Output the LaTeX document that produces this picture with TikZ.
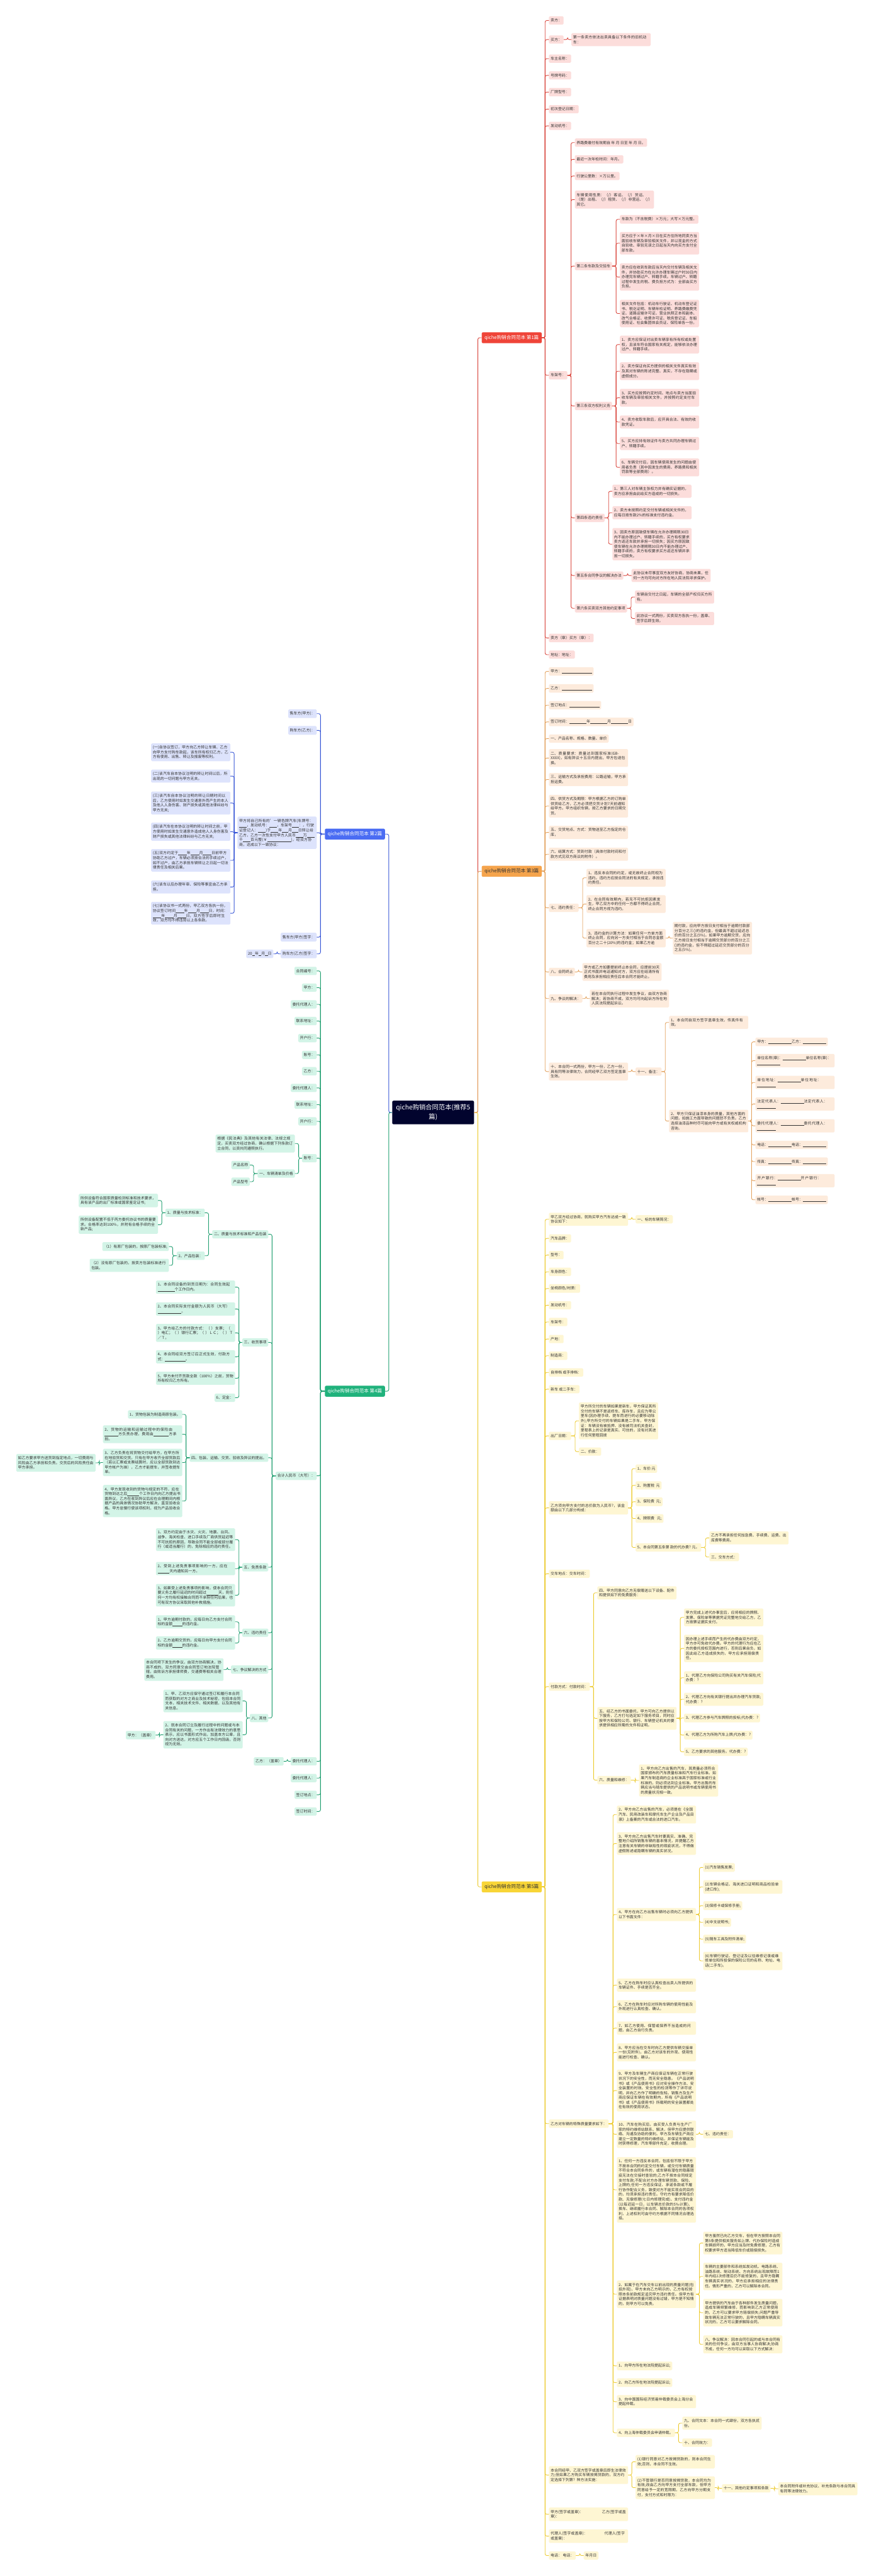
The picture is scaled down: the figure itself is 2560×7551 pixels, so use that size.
\documentclass[tikz,border=0pt]{standalone}
\usepackage{fontspec}
\setmainfont{Noto Sans CJK SC}
\XeTeXlinebreaklocale "zh"
\XeTeXlinebreakskip=0pt plus 1pt
\usetikzlibrary{calc}
\definecolor{rfill}{HTML}{FCDDDB}
\definecolor{rline}{HTML}{D9443B}
\definecolor{rroot}{HTML}{EF4438}
\definecolor{ofill}{HTML}{FDEBDC}
\definecolor{oline}{HTML}{E3A15C}
\definecolor{oroot}{HTML}{F5A44C}
\definecolor{yfill}{HTML}{FEF6D3}
\definecolor{yline}{HTML}{EDCB2F}
\definecolor{yroot}{HTML}{F8D537}
\definecolor{bfill}{HTML}{DDE3FC}
\definecolor{bline}{HTML}{3554D6}
\definecolor{broot}{HTML}{4A6CF3}
\definecolor{gfill}{HTML}{D3F4E7}
\definecolor{gline}{HTML}{1B9D6D}
\definecolor{groot}{HTML}{20B27C}
\definecolor{cnode}{HTML}{02042E}
\definecolor{txt}{HTML}{333333}
\newcommand\blnk[1]{\hspace{0pt}\rule[-1.5pt]{#1pt}{0.5pt}\hspace{0pt}}
\newcommand\cnR[3]{\path (#3.west) ++(-11,0) coordinate (tmpc); \draw[#1] (#2.east) -- (tmpc |- #2.east) |- (#3.west);}
\newcommand\cnL[3]{\path (#3.east) ++(11,0) coordinate (tmpc); \draw[#1] (#2.west) -- (tmpc |- #2.west) |- (#3.east);}
\newcommand\kidsR[3]{\foreach \kk in {#3}{\cnR{#1}{#2}{\kk}}}
\newcommand\kidsL[3]{\foreach \kk in {#3}{\cnL{#1}{#2}{\kk}}}
\tikzset{
  bx/.style={rectangle, rounded corners=3pt, inner xsep=5pt, inner ysep=7pt, text=txt, align=left, font=\fontsize{11}{14}\selectfont},
  W/.style={text width=222pt},
  Rw/.style={bx, fill=rfill, anchor=west},
  Ow/.style={bx, fill=ofill, anchor=west},
  Yw/.style={bx, fill=yfill, anchor=west},
  Be/.style={bx, fill=bfill, anchor=east},
  Ge/.style={bx, fill=gfill, anchor=east},
  ln/.style={line width=1.6pt, rounded corners=5pt},
  RL/.style={ln, draw=rline},
  OL/.style={ln, draw=oline},
  YL/.style={ln, draw=yline},
  BL/.style={ln, draw=bline},
  GL/.style={ln, draw=gline},
  rootn/.style={rectangle, rounded corners=4pt, minimum width=176pt, minimum height=32pt, inner sep=0pt, font=\fontsize{14}{16}\selectfont, align=center},
}
\begin{document}
\begin{tikzpicture}[x=1pt,y=-1pt]
\fill[white] (0,0) rectangle (2560,7551);
\useasboundingbox (0,0) rectangle (2560,7551);

% central
\node[rectangle, rounded corners=4pt, fill=cnode, text=white, minimum width=240pt, minimum height=69pt, align=center, font=\fontsize{19}{27}\selectfont] (C) at (1269,3261) {qiche购销合同范本(推荐5\\篇)};

% roots
\node[rootn, fill=rroot, text=white, anchor=west] (R) at (1411,990) {qiche购销合同范本 第1篇};
\node[rootn, fill=oroot, text=txt, anchor=west] (O) at (1411,2554) {qiche购销合同范本 第3篇};
\node[rootn, fill=yroot, text=txt, anchor=west] (Y) at (1411,5531) {qiche购销合同范本 第5篇};
\node[rootn, fill=broot, text=white, anchor=east] (B) at (1128,2445) {qiche购销合同范本 第2篇};
\node[rootn, fill=groot, text=white, anchor=east] (G) at (1128,4078) {qiche购销合同范本 第4篇};

% ===== RED =====
\node[Rw] (r1) at (1608,60) {卖方：};
\node[Rw] (r2) at (1608,116) {买方：};
\node[Rw,W] (r2a) at (1674,116) {第一条卖方依法出卖具备以下条件的旧机动车：};
\node[Rw] (r3) at (1608,172) {车主名称：};
\node[Rw] (r4) at (1608,221) {号牌号码：};
\node[Rw] (r5) at (1608,270) {厂牌型号：};
\node[Rw] (r6) at (1608,320) {初次登记日期：};
\node[Rw] (r7) at (1608,369) {发动机号：};
\node[Rw] (r8) at (1608,1100) {车架号：};
\node[Rw] (r9) at (1608,1870) {卖方（章）买方（章）：};
\node[Rw] (r10) at (1608,1919) {地址：地址：};
\node[Rw] (r8a) at (1684,418) {养路费缴付有效期自 年 月 日至 年 月 日。};
\node[Rw] (r8b) at (1684,467) {最近一次年检时间：年月。};
\node[Rw] (r8c) at (1684,516) {行驶公里数：×万公里。};
\node[Rw,W] (r8d) at (1684,585) {车辆使用性质：（/）客运、（/）货运、（是）出租、（/）租赁、（/）非营运、（/）其它。};
\node[Rw] (r8e) at (1684,780) {第二条车款及交验车};
\node[Rw] (r8f) at (1684,1190) {第三条双方权利义务};
\node[Rw] (r8g) at (1684,1518) {第四条违约责任};
\node[Rw] (r8h) at (1684,1687) {第五条合同争议的解决办法};
\node[Rw] (r8i) at (1684,1783) {第六条买卖双方其他约定事项};
\node[Rw] (e1) at (1816,643) {车款为（不含税费）×万元；大写×万元整。};
\node[Rw,W] (e2) at (1816,713) {买方应于×年×月×日在买方住所地同卖方当面验收车辆及审验相关文件，并以现金的方式自验收、审验无误之日起当天内向买方支付全部车款。};
\node[Rw,W] (e3) at (1816,812) {卖方应在收到车款后当天内交付车辆及相关文件，并协助买方在允许办理车辆过户时30日内办理完车辆过户、转籍手续。车辆过户、转籍过程中发生的税、费负担方式为：全部由买方负担。};
\node[Rw,W] (e4) at (1816,919) {相关文件包括：机动车行驶证、机动车登记证书、税讫证明、车辆年检证明、养路费缴费凭证、道路运输许可证、营业执照正本和副本、改气合格证、收费许可证、税务登记证、车船使用证、社会集团体会员证、保险单各一份。};
\node[Rw,W] (f1) at (1816,1010) {1、卖方应保证对出卖车辆享有所有权或处置权，且该车符合国家有关规定，能够依法办理过户、转籍手续。};
\node[Rw,W] (f2) at (1816,1088) {2、卖方保证向买方提供的相关文件真实有效及其对车辆的陈述完整、真实，不存在隐瞒或虚假成分。};
\node[Rw,W] (f3) at (1816,1166) {3、买方应按照约定时间、地点与卖方当面验收车辆及审验相关文件，并按照约定支付车款。};
\node[Rw,W] (f4) at (1816,1237) {4、卖方收取车款后，应开具合法、有效的收款凭证。};
\node[Rw,W] (f5) at (1816,1300) {5、买方应持有效证件与卖方共同办理车辆过户、转籍手续。};
\node[Rw,W] (f6) at (1816,1370) {6、车辆交付后，因车辆使用发生的问题由使用者负责（其中因发生的费用、养路费和相关罚款等全部费用）。};
\node[Rw,W] (v1) at (1794,1440) {1、第三人对车辆主张权力并有确实证据的，卖方应承担由此给买方造成的一切损失。};
\node[Rw,W] (v2) at (1794,1503) {2、卖方未按照约定交付车辆或相关文件的，应每日按车款2\%的标准支付违约金。};
\node[Rw,W] (v3) at (1794,1595) {3、因卖方原因致使车辆在允许办理期限30日内不能办理过户、转籍手续的，买方有权要求卖方返还车款并承担一切损失；因买方原因致使车辆在允许办理期限30日内不能办理过户、转籍手续的，卖方有权要求买方返还车辆并承担一切损失。};
\node[Rw,W] (h1) at (1850,1687) {此协议未尽事宜双方友好协商，协商未果，任何一方均可向对方所在地人民法院寻求保护。};
\node[Rw,W] (i1) at (1860,1750) {车辆自交付之日起，车辆的全部产权归买方所有。};
\node[Rw,W] (i2) at (1860,1813) {此协议一式两份，买卖双方各执一份，盖章、签字后即生效。};

% ===== ORANGE =====
\node[Ow] (o1) at (1608,1968) {甲方：\blnk{88}};
\node[Ow] (o2) at (1608,2018) {乙方：\blnk{88}};
\node[Ow] (o3) at (1608,2067) {签订地点：\blnk{88}};
\node[Ow] (o4) at (1608,2116) {签订时间：\blnk{50}年\blnk{50}月\blnk{50}日};
\node[Ow] (o5) at (1608,2165) {一、产品名称、规格、数量、单价};
\node[Ow,W] (o6) at (1608,2222) {二、质量要求：质量达到国家标准(GB-XXXX)，如有异议十五日内提出，甲方包退包换。};
\node[Ow,W] (o7) at (1608,2285) {三、运输方式及承担费用：公路运输，甲方承担运费。};
\node[Ow,W] (o8) at (1608,2363) {四、供货方式及期限：甲方根据乙方的订购单供货给乙方，乙方必须把交货计划7天前通知给甲方。甲方组织车辆，按乙方要求的日期交货。};
\node[Ow,W] (o9) at (1608,2440) {五、交货地点、方式：货物送至乙方指定的仓库，};
\node[Ow,W] (o10) at (1608,2504) {六、结算方式：货到付款（具体付款时间和付款方式见双方商议的附件）。};
\node[Ow] (o11) at (1608,2661) {七、违约责任：};
\node[Ow] (o12) at (1608,2849) {八、合同终止};
\node[Ow] (o13) at (1608,2927) {九、争议的解决：};
\node[Ow,W] (o14) at (1608,3141) {十、本合同一式两份，甲方一份，乙方一份，具有同等法律效力，合同经甲乙双方签定盖章生效。};
\node[Ow,W] (o11a) at (1718,2573) {1、违反本合同的约定，或无故终止合同视为违约。违约方应按合同法的有关规定，承担违约责任。};
\node[Ow,W] (o11b) at (1718,2650) {2、在合同有效期内，若无不可抗拒因素发生，甲乙双方中的任何一方都不得终止合同，终止合同方视为违约。};
\node[Ow,W] (o11c) at (1718,2750) {3、违约金的计算方法：如果任何一方单方面终止合同，应向另一方支付相当于合同总金额百分之二十(20\%)的违约金；如果乙方逾};
\node[Ow,W] (o11d) at (1971,2750) {期付款，应向甲方按日支付相当于逾期付款部分百分之三()的违约金，但最高不超过延迟总价的百分之五(5\%)。如果甲方逾期交货，应向乙方按日支付相当于逾期交货部分的百分之三()的违约金，但不得超过延迟交货部分的百分之五(5\%)。};
\node[Ow,W] (o12a) at (1706,2849) {甲方或乙方如要提前终止本合同，应提前30天正式书面并电话通知对方，双方应在结清所有费用及承担相应责任后本合同才能终止。};
\node[Ow,W] (o13a) at (1728,2927) {若在本合同执行过程中发生争议，由双方协商解决；若协商不成，双方均可向起诉方所在地人民法院提起诉讼。};
\node[Ow] (o14a) at (1862,3141) {十一、备注：};
\node[Ow,W] (o14b) at (1960,2997) {1、本合同自双方签字盖章生效，传真件有效。};
\node[Ow,W] (o14c) at (1960,3286) {2、甲方只保证油漆本身的质量，其他方面的问题，如施工方面导致的问题恕不负责。乙方选择油漆品种时尽可能向甲方或有关权威机构咨询。};
\node[Ow] (p1) at (2213,3054) {甲方：\blnk{68}乙方：\blnk{68}};
\node[Ow,W] (p2) at (2213,3109) {单位名称(章)：\blnk{68}单位名称(章)：\blnk{68}};
\node[Ow,W] (p3) at (2213,3173) {单位地址：\blnk{68}单位地址：\blnk{55}};
\node[Ow,W] (p4) at (2213,3236) {法定代表人：\blnk{68}法定代表人：\blnk{55}};
\node[Ow,W] (p5) at (2213,3300) {委托代理人：\blnk{68}委托代理人：\blnk{55}};
\node[Ow] (p6) at (2213,3356) {电话：\blnk{68}电话：\blnk{68}};
\node[Ow] (p7) at (2213,3405) {传真：\blnk{68}传真：\blnk{68}};
\node[Ow,W] (p8) at (2213,3461) {开户银行：\blnk{68}开户银行：\blnk{55}};
\node[Ow] (p9) at (2213,3517) {帐号：\blnk{68}帐号：\blnk{68}};

% ===== YELLOW =====
\node[Yw,W] (y1) at (1608,3574) {甲乙双方经过协商，就购买甲方汽车达成一致协议如下：};
\node[Yw] (y1a) at (1862,3574) {一、标的车辆简况：};
\node[Yw] (y2) at (1608,3630) {汽车品牌：};
\node[Yw] (y3) at (1608,3679) {型号：};
\node[Yw] (y4) at (1608,3728) {车身颜色：};
\node[Yw] (y5) at (1608,3777) {坐椅颜色/材质：};
\node[Yw] (y6) at (1608,3826) {发动机号：};
\node[Yw] (y7) at (1608,3875) {车架号：};
\node[Yw] (y8) at (1608,3925) {产地：};
\node[Yw] (y9) at (1608,3974) {制造商：};
\node[Yw] (y10) at (1608,4023) {自排档 或手排档：};
\node[Yw] (y11) at (1608,4072) {新车 或二手车：};
\node[Yw] (y12) at (1608,4209) {出厂日期：};
\node[Yw,W] (y12a) at (1696,4165) {甲方所交付的车辆如果是新车，甲方保证其所交付的车辆不是返修车、库存车，且应为零公里车(因办理手续、提车而进行的必要移动除外);甲方所交付的车辆如果是二手车，甲方保证：车辆没有被抵押、没有被司法机关查封，里程表上的记录是真实、可信的，没有对其进行任何里程回拨};
\node[Yw] (y12b) at (1696,4255) {二、价款：};
\node[Yw,W] (y13) at (1608,4420) {乙方须向甲方支付的总价款为人民币?，该金额由以下几部分构成：};
\node[Yw] (y13a) at (1862,4305) {1、车价:元};
\node[Yw] (y13b) at (1862,4354) {2、购置税\ \ 元};
\node[Yw] (y13c) at (1862,4402) {3、保险费\ \ 元;};
\node[Yw] (y13d) at (1862,4451) {4、牌照费\ \ \ 元;};
\node[Yw] (y13e) at (1862,4536) {5、本合同第五条第 款的代办费? 元。};
\node[Yw,W] (y13f) at (2078,4508) {乙方不再承担任何加急费、手续费、运费、出库费等费用。};
\node[Yw] (y13g) at (2078,4564) {三、交车方式：};
\node[Yw] (y14) at (1608,4613) {交车地点：交车时间：};
\node[Yw] (y15) at (1608,4944) {付款方式：付款时间：};
\node[Yw,W] (y15a) at (1750,4669) {四、甲方同意向乙方无偿赠送以下设备、配件和提供如下的免费服务：};
\node[Yw,W] (y15b) at (1750,5037) {五、经乙方的书面委托，甲方可向乙方提供以下服务，乙方打勾选定如下服务项目，同时应按甲方和保险公司、银行、车辆登记机关的要求提供相应所需的文件和证明。};
\node[Yw] (y15c) at (1750,5218) {六、质量和维修：};
\node[Yw,W] (s1) at (2004,4741) {甲方完成上述代办事宜后，应将相应的牌照、发票、保险单等票据凭证完整地交给乙方，乙方按票证据实支付。};
\node[Yw,W] (s2) at (2004,4832) {因办理上述手续而产生的代办费由双方约定，甲方亦可免收代办费。甲方的代理行为应在乙方的委托授权范围内进行，否则后果自负，如因此给乙方造成损失的，甲方应承担赔偿责任。};
\node[Yw,W] (s3) at (2004,4918) {1、代理乙方向保险公司购买有关汽车保险;代办费：?};
\node[Yw,W] (s4) at (2004,4981) {2、代理乙方向有关银行提出并办理汽车贷款;代办费：?};
\node[Yw] (s5) at (2004,5036) {3、代理乙方参与汽车牌照的投标;代办费：?};
\node[Yw] (s6) at (2004,5086) {4、代理乙方为所购汽车上牌;代办费：?};
\node[Yw] (s7) at (2004,5135) {5、乙方要求的其他服务。代办费：?};
\node[Yw,W] (y15d) at (1872,5219) {1、甲方向乙方出售的汽车，其质量必须符合国家颁布的汽车质量标准和汽车行业标准。如果汽车制造商的企业标准高于国家标准或行业标准的，则必须达到企业标准。甲方出售的车辆应当与随车提供的产品说明书或车辆使用书的质量状况相一致。};
\node[Yw] (y16) at (1608,6225) {乙方对车辆的特殊质量要求如下：};
\node[Yw,W] (q2) at (1807,5319) {2、甲方向乙方出售的汽车，必须是在《全国汽车、民用改装车和摩托车生产企业及产品目录》上备案的汽车或合法的进口汽车。};
\node[Yw,W] (q3) at (1807,5404) {3、甲方向乙方出售汽车时要真实、准确、完整地介绍所销售车辆的基本情况，并提醒乙方注意有关车辆的非缺陷性的瑕疵状况，不得做虚假陈述或隐瞒车辆的真实状况。};
\node[Yw,W] (q4) at (1807,5612) {4、甲方在向乙方出售车辆时必须向乙方提供以下书面文件：};
\node[Yw] (q4a) at (2060,5474) {(1)汽车销售发票;};
\node[Yw,W] (q4b) at (2060,5531) {(2)车辆合格证、海关进口证明和商品检验单(进口车);};
\node[Yw] (q4c) at (2060,5586) {(3)保修卡或保修手册;};
\node[Yw] (q4d) at (2060,5635) {(4)中文说明书;};
\node[Yw] (q4e) at (2060,5684) {(5)随车工具及附件清单;};
\node[Yw,W] (q4f) at (2060,5748) {(6)车辆行驶证、登记证及以往维修记录或维修单位和所投保的保险公司的名称、地址、电话(二手车)。};
\node[Yw,W] (q5) at (1807,5819) {5、乙方在购车时应认真检查出卖人所提供的车辆证件、手续是否齐全。};
\node[Yw,W] (q6) at (1807,5882) {6、乙方在购车时应对所购车辆的使用性能及外观进行认真检查、确认。};
\node[Yw,W] (q7) at (1807,5945) {7、如乙方使用、保管或保养不当造成的问题，由乙方自行负责。};
\node[Yw,W] (q8) at (1807,6016) {8、甲方应当在交车时向乙方提供车辆交接单一份(见附件)，由乙方对该车的外观、使用性能进行检查、确认。};
\node[Yw,W] (q9) at (1807,6128) {9、甲方及车辆生产商应保证车辆在正常行驶状况下的安全性，而无安全隐患。《产品说明书》或《产品使用书》应对安全操作方法、安全装置的时效、安全性的检测等作了详尽说明，并向乙方作了明确的告知。销售方及生产商应保证车辆在有效期内，所有《产品说明书》或《产品使用书》所载明的安全装置都处在有效的使用状态。};
\node[Yw,W] (q10) at (1807,6256) {10、汽车在购买后，由买受人负责与生产厂家的特约维修站联系、解决，但甲方应提供联络、沟通及协助的便利。甲方及车辆生产商应建立一定数量的特约维修站，并保证车辆能及时获得修理，汽车零部件充足，收费合理。};
\node[Yw] (q10a) at (2060,6256) {七、违约责任：};
\node[Yw,W] (q11) at (1807,6419) {1、任何一方违反本合同，包括但不限于甲方不按本合同的约定交付车辆，或交付车辆质量不符合本合同条件的，或车辆有潜在的隐蔽瑕疵无法在交接时查验的;乙方不按本合同规定支付车款;不配合对方办理车辆贷款、保险、上牌的;任何一方违反保证、承诺条款或不履行协作配合义务，致使对方不能实现合同目的的，均须承担违约责任。守约方有要求降低价款、无偿修理(七日内修理完成)、支付违约金(以每迟延一日，以车辆总价款的5‰计算)、换车、继续履行本合同、解除本合同的各项权利，上述权利可由守约方根据不同情况合理选择。};
\node[Yw,W] (q12) at (1807,6725) {2、如属于在汽车交车以前出现的质量问题(包括外观)，甲方未向乙方明示的，乙方有权按照本条前款规定追究甲方违约责任。但甲方有证据表明对质量问题没有过错，甲方是不知情的，则甲方可以免责。};
\node[Yw,W] (q12a) at (2060,6575) {甲方虽然已向乙方交车，但在甲方按照本合同第5条提供相关服务如上牌、代办保险时造成车辆损坏的，甲方应当及时免费修理，乙方有权要求甲方适当降低车价或赔偿损失。};
\node[Yw,W] (q12b) at (2060,6673) {车辆的主要部件和系统如发动机、电路系统、油路系统、制动系统、方向系统出现故障而1年内经2次修理后仍不能修复的，且甲方隐瞒车辆真实状况的，甲方应承担相应的法律责任。情形严重的，乙方可以解除本合同。};
\node[Yw,W] (q12c) at (2060,6779) {甲方提供的汽车由于各种部件发生质量问题，造成车辆频繁维修，而影响到乙方正常使用的，乙方可以要求甲方赔偿损失;问题严重导致车辆无法正常行驶的，且甲方隐瞒车辆真实状况的，乙方可以要求解除合同。};
\node[Yw,W] (q12d) at (2060,6872) {八、争议解决：因本合同引起的或与本合同有关的任何争议，由双方当事人协商解决;协商不成，任何一方均可以采取以下方式解决：};
\node[Yw] (q13) at (1807,6935) {1、向甲方所在地法院提起诉讼;};
\node[Yw] (q14) at (1807,6984) {2、向乙方所在地法院提起诉讼;};
\node[Yw,W] (q15) at (1807,7040) {3、向中国国际经济贸易仲裁委员会上海分会提起仲裁。};
\node[Yw] (q16) at (1807,7131) {4、向上海仲裁委员会申请仲裁。};
\node[Yw,W] (q16a) at (1999,7103) {九、合同文本：本合同一式肆份，双方各执贰份。};
\node[Yw] (q16b) at (1999,7160) {十、合同效力：};
\node[Yw,W] (y17) at (1608,7255) {本合同经甲、乙双方签字或盖章后即生法律效力;但如果乙方购买车辆按揭贷款的，双方约定选择下列第? 种方法实施：};
\node[Yw,W] (y17a) at (1862,7216) {(1)银行同意对乙方按揭贷款的，则本合同生效;否则，本合同不生效。};
\node[Yw,W] (y17b) at (1862,7292) {(2)不管银行是否同意按揭贷款，本合同均为有效;改由乙方向甲方支付全部车款，但甲方同意给予一定的宽限期，乙方向甲方分期支付，支付方式和时限为：};
\node[Yw] (y17c) at (2115,7294) {十一、其他约定事项和条款};
\node[Yw,W] (y17d) at (2280,7295) {本合同附件或补充协议、补充条款与本合同具有同等法律效力。};
\node[Yw,W] (y18) at (1608,7370) {甲方(签字或盖章)：\kern55pt 乙方(签字或盖章)：};
\node[Yw,W] (y19) at (1608,7434) {代理人(签字或盖章)：\kern50pt 代理人(签字或盖章)：};
\node[Yw] (y20) at (1608,7491) {电话：\ 电话：};
\node[Yw] (y20a) at (1710,7491) {年月日};

% ===== BLUE =====
\node[Be] (b1) at (928,2092) {售车方(甲方)：};
\node[Be] (b2) at (928,2141) {购车方(乙方)：};
\node[Be,W] (b3) at (928,2441) {甲方将自己所有的'一辆色牌汽车(车牌号：\blnk{22}，发动机号：\blnk{22}，车架号\blnk{20}：，行驶证登记人：\blnk{22})于\blnk{22}年\blnk{18}月\blnk{18}日转让给乙方，乙方一次性支付甲方人民币\blnk{22}万\blnk{22}千\blnk{22}百元整(￥\blnk{70})，经双方协商，达成以下一致协议：};
\node[Be,W] (b3a) at (675,2205) {(一)自协议签订，甲方向乙方转让车辆、乙方向甲方支付购车款起，该车所有权归乙方，乙方有使用、出售、转让及报废等权利。};
\node[Be,W] (b3b) at (675,2275) {(二)该汽车自本协议注明的转让时间以后，所出现的一切问题与甲方无关。};
\node[Be,W] (b3c) at (675,2354) {(三)该汽车自本协议注明的转让日期时间以后，乙方使用时如发生交通意外而产生的本人及他人人身伤害、财产损失或其他法律纠纷与甲方无关;};
\node[Be,W] (b3d) at (675,2438) {(四)该汽车在本协议注明的转让时间之前，甲方使用时如发生交通意外造成他人人身伤害及财产损失或其他法律纠纷与乙方无关;};
\node[Be,W] (b3e) at (675,2522) {(五)双方约定于\blnk{25}年\blnk{25}月\blnk{25}日前甲方协助乙方过户，车辆必须按合法的手续过户，如不过户，由乙方承担车辆转让之日起一切法律责任及相关后果。};
\node[Be,W] (b3f) at (675,2600) {(六)该车以后办理年审、保险等事宜由乙方承担。};
\node[Be,W] (b3g) at (675,2677) {(七)该协议书一式两份，甲乙双方各执一份，协议签订时间\blnk{25}年\blnk{25}月\blnk{25}日，时间：\blnk{25}年\blnk{25}月\blnk{25}日，双方签字后即时生效，双方均不得违背以上各条款。};
\node[Be] (b4) at (928,2747) {售车方(甲方)签字：};
\node[Be] (b5) at (928,2796) {购车方(乙方)签字：};
\node[Be] (b5a) at (801,2796) {20\blnk{8}年\blnk{8}月\blnk{8}日};

% ===== GREEN =====
\node[Ge] (g1) at (928,2846) {合同编号：};
\node[Ge] (g2) at (928,2895) {甲方：};
\node[Ge] (g3) at (928,2944) {委托代理人：};
\node[Ge] (g4) at (928,2993) {联系地址：};
\node[Ge] (g5) at (928,3043) {开户行：};
\node[Ge] (g6) at (928,3092) {账号：};
\node[Ge] (g7) at (928,3140) {乙方：};
\node[Ge] (g8) at (928,3189) {委托代理人：};
\node[Ge] (g9) at (928,3238) {联系地址：};
\node[Ge] (g10) at (928,3287) {开户行：};
\node[Ge] (g11) at (928,3395) {账号：};
\node[Ge,W] (g11a) at (864,3352) {根据《民法典》及其他有关法律、法规之规定，买卖双方经过协商，确认根据下列条款订立合同，以资共同遵照执行。};
\node[Ge] (g11b) at (864,3440) {一、车辆清单及价格};
\node[Ge] (g11c) at (732,3415) {产品名称};
\node[Ge] (g11d) at (732,3464) {产品型号};
\node[Ge] (g12) at (928,4326) {合计人民币（大写）：};
\node[Ge] (k2) at (786,3618) {二、质量与技术标准和产品包装};
\node[Ge] (k2a) at (600,3555) {1、质量与技术标准：};
\node[Ge,W] (k2a1) at (463,3519) {所供设备符合国家质量检测标准和技术要求，具有该产品的出厂标准或国家鉴定证书;};
\node[Ge,W] (k2a2) at (463,3590) {所供设备配置不低于丙方委托协议书的质量要求。合格率达到100\%，并附有合格手续的全新产品;};
\node[Ge] (k2b) at (600,3681) {2、产品包装：};
\node[Ge] (k2b1) at (495,3654) {（1）有原厂包装的，按原厂包装标准;};
\node[Ge,W] (k2b2) at (495,3709) {（2）没有原厂包装的，按卖方包装标准进行包装。};
\node[Ge] (k3) at (786,3935) {三、收货事项};
\node[Ge,W] (k3a) at (689,3773) {1、本合同设备的到货日期为：合同生效起\blnk{50}个工作日内。};
\node[Ge,W] (k3b) at (689,3837) {2、本合同实际支付金额为人民币（大写）\blnk{70}。};
\node[Ge,W] (k3c) at (689,3907) {3、甲方给乙方的付款方式：（ ）支票；（ ）电汇；（ ）银行汇票；（ ）ＬＣ；（ ）Ｔ／Ｔ。};
\node[Ge,W] (k3d) at (689,3977) {4、本合同经双方签订后正式生效，付款方式：\blnk{60}。};
\node[Ge,W] (k3e) at (689,4040) {5、甲方未付齐货款全款（100\%）之前，货物所有权归乙方所有。};
\node[Ge] (k3f) at (689,4097) {6、定金：};
\node[Ge] (k4) at (786,4273) {四、包装、运输、交货、验收及异议的提出。};
\node[Ge] (k4a) at (534,4146) {1、货物包装为制造商原包装。};
\node[Ge,W] (k4b) at (534,4204) {2、货物的运输和运输过程中的保险由\blnk{40}方负责办理，费用由\blnk{45}方承担。};
\node[Ge,W] (k4c) at (534,4287) {3、乙方负责在将货物交付给甲方，在甲方所在地验货和交货。只有在甲方收齐全部货款后（若以汇票或支票结算时，应以全部货款到达甲方帐户为准），乙方才能提车，并签收提车单。};
\node[Ge,W] (k4c1) at (280,4288) {如乙方要求甲方送货到指定地点，一切费用与风险由乙方承担和负责。交货后的风险责任由甲方承担。};
\node[Ge,W] (k4d) at (534,4400) {4、甲方发现收到的货物与规定的不符，应在货物到达之后\blnk{35}个工作日内向乙方提出书面异议，乙方在收到异议后应在合理期间内根据产品的具体情况协助甲方解决，直至验收合格。甲方怠慢行使该项权利，视为产品验收合格。};
\node[Ge] (k5) at (786,4594) {五、免责条款};
\node[Ge,W] (k5a) at (689,4513) {1、双方约定由于水灾、火灾、地震、台风、战争、海关检查、进口手续及厂商供货延迟等不可抗拒的原因，导致合同不能全部或部分履行（或适当履行）的，免除相应的违约责任。};
\node[Ge,W] (k5b) at (689,4598) {2、受到上述免责事项影响的一方，应在\blnk{35}天内通知另一方。};
\node[Ge,W] (k5c) at (689,4676) {3、如果受上述免责事项的影响，使本合同只要义务之履行延迟的时间超过\blnk{35}天，则任何一方均有权接触合同而不承担任何后果，也可有双方协议采取其他补救措施。};
\node[Ge] (k6) at (786,4786) {六、违约责任};
\node[Ge,W] (k6a) at (689,4754) {1、甲方逾期付款的，应每日向乙方支付合同标的金额\blnk{28}的违约金。};
\node[Ge,W] (k6b) at (689,4816) {2、乙方逾期交货的，应每日向甲方支付合同标的金额\blnk{28}的违约金。};
\node[Ge] (k7) at (786,4894) {七、争议解决的方式};
\node[Ge,W] (k7a) at (655,4894) {本合同项下发生的争议，由双方协商解决，协商不成的，双方同意交由合同签订地法院管辖，由败诉方承担律师费，交通费等相关合理费用。};
\node[Ge] (k8) at (786,5036) {八、其他};
\node[Ge,W] (k8a) at (711,4986) {1、甲、乙双方应保守通过签订和履行本合同而获取的对方之商业及技术秘密，包括本合同文本，相关技术文件、相关数据，以及其他有关信息。};
\node[Ge,W] (k8b) at (711,5085) {2、就本合同订立及履行过程中的问题或与本合同有关的问题，一方作出有法律效力的意思表示，应以书面形式作出，加盖本方公章，且向对方送达，对方应五个工作日内回函，否则视为无效。};
\node[Ge] (k8c) at (456,5086) {甲方：（盖章）};
\node[Ge] (g13) at (928,5163) {委托代理人：};
\node[Ge] (g13a) at (831,5163) {乙方：（盖章）};
\node[Ge] (g14) at (928,5212) {委托代理人：};
\node[Ge] (g15) at (928,5261) {签订地点：};
\node[Ge] (g16) at (928,5310) {签订时间：};

% ===== CONNECTORS =====
\cnR{RL}{C}{R}
\cnR{OL}{C}{O}
\cnR{YL}{C}{Y}
\cnL{BL}{C}{B}
\cnL{GL}{C}{G}

\kidsR{RL}{R}{r1,r2,r3,r4,r5,r6,r7,r8,r9,r10}
\cnR{RL}{r2}{r2a}
\kidsR{RL}{r8}{r8a,r8b,r8c,r8d,r8e,r8f,r8g,r8h,r8i}
\kidsR{RL}{r8e}{e1,e2,e3,e4}
\kidsR{RL}{r8f}{f1,f2,f3,f4,f5,f6}
\kidsR{RL}{r8g}{v1,v2,v3}
\cnR{RL}{r8h}{h1}
\kidsR{RL}{r8i}{i1,i2}

\kidsR{OL}{O}{o1,o2,o3,o4,o5,o6,o7,o8,o9,o10,o11,o12,o13,o14}
\kidsR{OL}{o11}{o11a,o11b,o11c}
\cnR{OL}{o11c}{o11d}
\cnR{OL}{o12}{o12a}
\cnR{OL}{o13}{o13a}
\cnR{OL}{o14}{o14a}
\kidsR{OL}{o14a}{o14b,o14c}
\kidsR{OL}{o14c}{p1,p2,p3,p4,p5,p6,p7,p8,p9}

\kidsR{YL}{Y}{y1,y2,y3,y4,y5,y6,y7,y8,y9,y10,y11,y12,y13,y14,y15,y16,y17,y18,y19,y20}
\cnR{YL}{y1}{y1a}
\kidsR{YL}{y12}{y12a,y12b}
\kidsR{YL}{y13}{y13a,y13b,y13c,y13d,y13e}
\kidsR{YL}{y13e}{y13f,y13g}
\kidsR{YL}{y15}{y15a,y15b,y15c}
\kidsR{YL}{y15b}{s1,s2,s3,s4,s5,s6,s7}
\cnR{YL}{y15c}{y15d}
\kidsR{YL}{y16}{q2,q3,q4,q5,q6,q7,q8,q9,q10,q11,q12,q13,q14,q15,q16}
\kidsR{YL}{q4}{q4a,q4b,q4c,q4d,q4e,q4f}
\cnR{YL}{q10}{q10a}
\kidsR{YL}{q12}{q12a,q12b,q12c,q12d}
\kidsR{YL}{q16}{q16a,q16b}
\kidsR{YL}{y17}{y17a,y17b}
\cnR{YL}{y17b}{y17c}
\cnR{YL}{y17c}{y17d}
\cnR{YL}{y20}{y20a}

\kidsL{BL}{B}{b1,b2,b3,b4,b5}
\kidsL{BL}{b3}{b3a,b3b,b3c,b3d,b3e,b3f,b3g}
\cnL{BL}{b5}{b5a}

\kidsL{GL}{G}{g1,g2,g3,g4,g5,g6,g7,g8,g9,g10,g11,g12,g13,g14,g15,g16}
\kidsL{GL}{g11}{g11a,g11b}
\kidsL{GL}{g11b}{g11c,g11d}
\kidsL{GL}{g12}{k2,k3,k4,k5,k6,k7,k8}
\kidsL{GL}{k2}{k2a,k2b}
\kidsL{GL}{k2a}{k2a1,k2a2}
\kidsL{GL}{k2b}{k2b1,k2b2}
\kidsL{GL}{k3}{k3a,k3b,k3c,k3d,k3e,k3f}
\kidsL{GL}{k4}{k4a,k4b,k4c,k4d}
\cnL{GL}{k4c}{k4c1}
\kidsL{GL}{k5}{k5a,k5b,k5c}
\kidsL{GL}{k6}{k6a,k6b}
\cnL{GL}{k7}{k7a}
\kidsL{GL}{k8}{k8a,k8b}
\cnL{GL}{k8b}{k8c}
\cnL{GL}{g13}{g13a}
\end{tikzpicture}
\end{document}
